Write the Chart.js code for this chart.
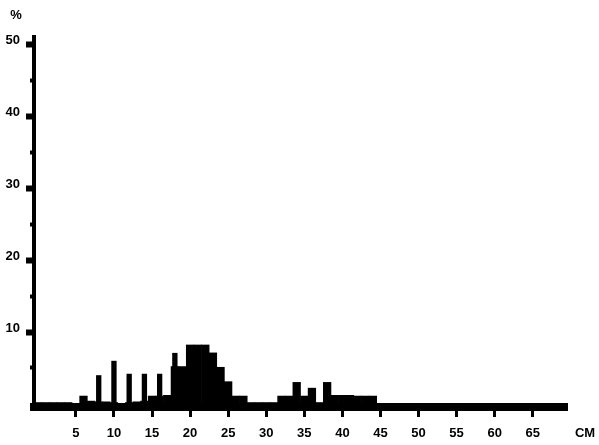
<!DOCTYPE html>
<html><head><meta charset="utf-8">
<script src="https://cdn.jsdelivr.net/npm/chart.js@4/dist/chart.umd.min.js"></script>
<style>html,body{margin:0;padding:0;background:#fff;}canvas{display:block;}</style>
</head><body>
<canvas id="c" width="599" height="445"></canvas>
<script>
// length classes in cm (0..69)
const categories = Array.from({length: 70}, (_, i) => String(i));
// percentage of fish per 1-cm class (broad distribution)
const baseValues = [
  0.2, 0.2, 0.2, 0.2, 0.2, 0,   1.1, 0.4, 0.3, 0.3,
  0.2, 0,   0.2, 0.3, 0.4, 1.1, 1.1, 1.2, 5.2, 5.2,
  8.2, 8.2, 8.2, 7.1, 5.1, 3.1, 1.1, 1.1, 0.2, 0.2,
  0.2, 0.2, 1.1, 1.1, 3.0, 1.1, 2.2, 0.2, 3.0, 1.2,
  1.2, 1.2, 1.1, 1.1, 1.1, 0,   0,   0,   0,   0,
  0,   0,   0,   0,   0,   0,   0,   0,   0,   0,
  0,   0,   0,   0,   0,   0,   0,   0,   0,   0
];
// narrow spikes at even length classes
const peakValues = [
  null, null, null, null, null, null, null, null, 4.0, null,
  6.0,  null, 4.2,  null, 4.2,  null, 4.2,  null, 7.1, null,
  null, null, null, null, null, null, null, null, null, null,
  null, null, null, null, null, null, null, null, null, null,
  null, null, null, null, null, null, null, null, null, null,
  null, null, null, null, null, null, null, null, null, null,
  null, null, null, null, null, null, null, null, null, null
];
const xTickValues = [5, 10, 15, 20, 25, 30, 35, 40, 45, 50, 55, 60, 65];
const yTickValues = [5, 10, 15, 20, 25, 30, 35, 40, 45, 50];
const yTickLabels = ['', '10', '', '20', '', '30', '', '40', '', '50'];

const FONT = "'Liberation Sans', Arial, sans-serif";

const unitLabels = {
  id: 'unitLabels',
  afterDraw(chart) {
    const ctx = chart.ctx, a = chart.chartArea;
    ctx.save();
    ctx.fillStyle = '#000';
    ctx.font = 'bold 13px ' + FONT;
    ctx.textAlign = 'center';
    ctx.textBaseline = 'middle';
    ctx.fillText('%', chart.scales.y.right - 18, a.top - 22);
    ctx.fillText('CM', a.right + 18, a.bottom + 26);
    ctx.restore();
  }
};

const isMajorY = c => c.tick && c.tick.value % 10 === 0;

new Chart(document.getElementById('c'), {
  type: 'bar',
  data: {
    labels: categories,
    datasets: [
      { data: baseValues, backgroundColor: '#000', borderWidth: 0,
        barPercentage: 1, categoryPercentage: 1, grouped: false },
      { data: peakValues, backgroundColor: '#000', borderWidth: 0,
        barPercentage: 0.7, categoryPercentage: 1, grouped: false }
    ]
  },
  options: {
    responsive: false,
    devicePixelRatio: 1,
    animation: false,
    layout: { padding: { top: 37, right: 32, left: 0, bottom: 0 } },
    plugins: { legend: { display: false }, tooltip: { enabled: false }, title: { display: false } },
    scales: {
      x: {
        type: 'category',
        offset: true,
        afterBuildTicks: s => { s.ticks = xTickValues.map(v => ({ value: v })); },
        afterFit: s => { s.height = 38; },
        grid: { offset: false, drawOnChartArea: false, drawTicks: true, tickLength: 10, tickWidth: 3, tickColor: '#000' },
        border: { display: true, width: 8, color: '#000' },
        ticks: { autoSkip: false, maxRotation: 0, minRotation: 0, padding: 9, color: '#000',
          font: { family: FONT, size: 13, weight: 'bold' } }
      },
      y: {
        type: 'linear',
        min: -0.42,
        max: 51,
        afterBuildTicks: s => { s.ticks = yTickValues.map(v => ({ value: v })); },
        afterFit: s => { s.width = 34; },
        grid: { drawOnChartArea: false, drawTicks: true, tickLength: 8,
          tickWidth: c => isMajorY(c) ? 6 : 4,
          tickBorderDash: c => isMajorY(c) ? [] : [0, 4, 3, 20],
          tickColor: '#000' },
        border: { display: true, width: 4, color: '#000' },
        ticks: { autoSkip: false, padding: 6, color: '#000', labelOffset: -4,
          font: { family: FONT, size: 13, weight: 'bold' },
          callback: (v, i) => yTickLabels[i] }
      }
    }
  },
  plugins: [unitLabels]
});
</script>
</body></html>
